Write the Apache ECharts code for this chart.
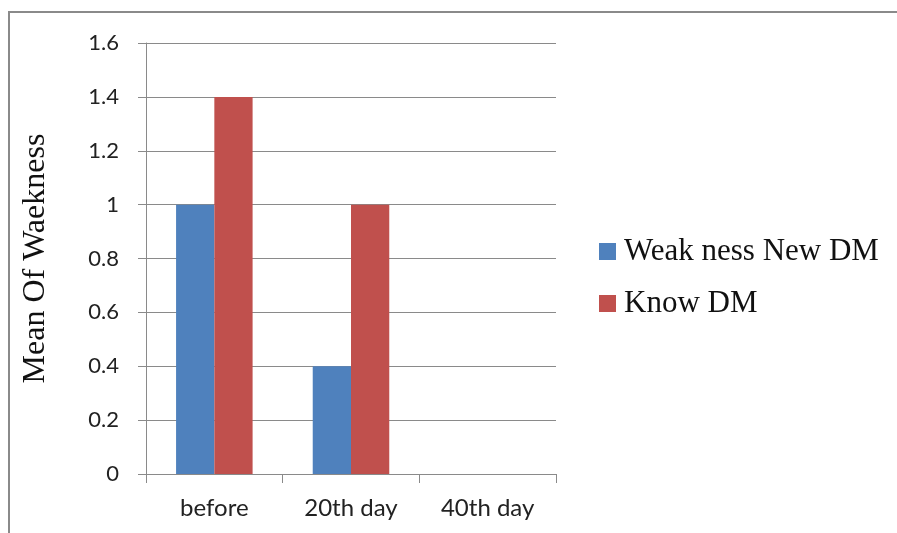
<!DOCTYPE html>
<html>
<head>
<meta charset="utf-8">
<script src="https://cdn.jsdelivr.net/npm/echarts@6/dist/echarts.min.js"></script>
<style>
html, body { margin: 0; padding: 0; background: #fff; }
#main { width: 897px; height: 533px; }
</style>
</head>
<body>
<div id="main"></div>
<script>
// categories and series values
var days = ['before', '20th day', '40th day'];
var newDM = [1, 0.4, 0];
var knowDM = [1.4, 1, 0];
var seriesNames = ['Weak ness New DM', 'Know DM'];
var colors = ['#4f81bd', '#c0504d'];

var chart = echarts.init(document.getElementById('main'));
chart.setOption({
    animation: false,
    // outer frame of the chart
    graphic: [{
        type: 'rect',
        shape: { x: 9, y: 12, width: 1000, height: 600 },
        style: { fill: null, stroke: '#8a8a8a', lineWidth: 2 }
    }],
    grid: { left: 146, top: 43, right: 341, bottom: 59 },
    legend: {
        orient: 'vertical',
        left: 599,
        top: 236,
        padding: 0,
        itemWidth: 17,
        itemHeight: 17,
        itemGap: 21,
        icon: 'rect',
        textStyle: { fontFamily: 'Liberation Serif', fontSize: 31, color: '#111', padding: [0, 0, 0, 3] },
        data: seriesNames
    },
    xAxis: {
        type: 'category',
        data: days,
        axisLine: { lineStyle: { color: '#8a8a8a', width: 1 } },
        axisTick: { show: true, length: 9, lineStyle: { color: '#8a8a8a' } },
        axisLabel: { fontFamily: 'Lato', fontSize: 24, color: '#222', margin: 22 }
    },
    yAxis: {
        type: 'value',
        min: 0,
        max: 1.6,
        interval: 0.2,
        name: 'Mean Of Waekness',
        nameLocation: 'middle',
        nameGap: 94,
        nameTextStyle: { fontFamily: 'Liberation Serif', fontSize: 32, color: '#111' },
        axisLine: { show: true, lineStyle: { color: '#8a8a8a', width: 1 } },
        axisTick: { show: true, length: 8, lineStyle: { color: '#8a8a8a' } },
        splitLine: { lineStyle: { color: '#8a8a8a', width: 1 } },
        axisLabel: {
            fontFamily: 'Lato', fontSize: 22, color: '#222', margin: 27,
            formatter: function (v) { return String(Math.round(v * 10) / 10); }
        }
    },
    series: [
        {
            name: seriesNames[0],
            type: 'bar',
            data: newDM,
            barGap: '0%',
            barCategoryGap: '44%',
            itemStyle: { color: colors[0] }
        },
        {
            name: seriesNames[1],
            type: 'bar',
            data: knowDM,
            itemStyle: { color: colors[1] }
        }
    ]
});
</script>
</body>
</html>
